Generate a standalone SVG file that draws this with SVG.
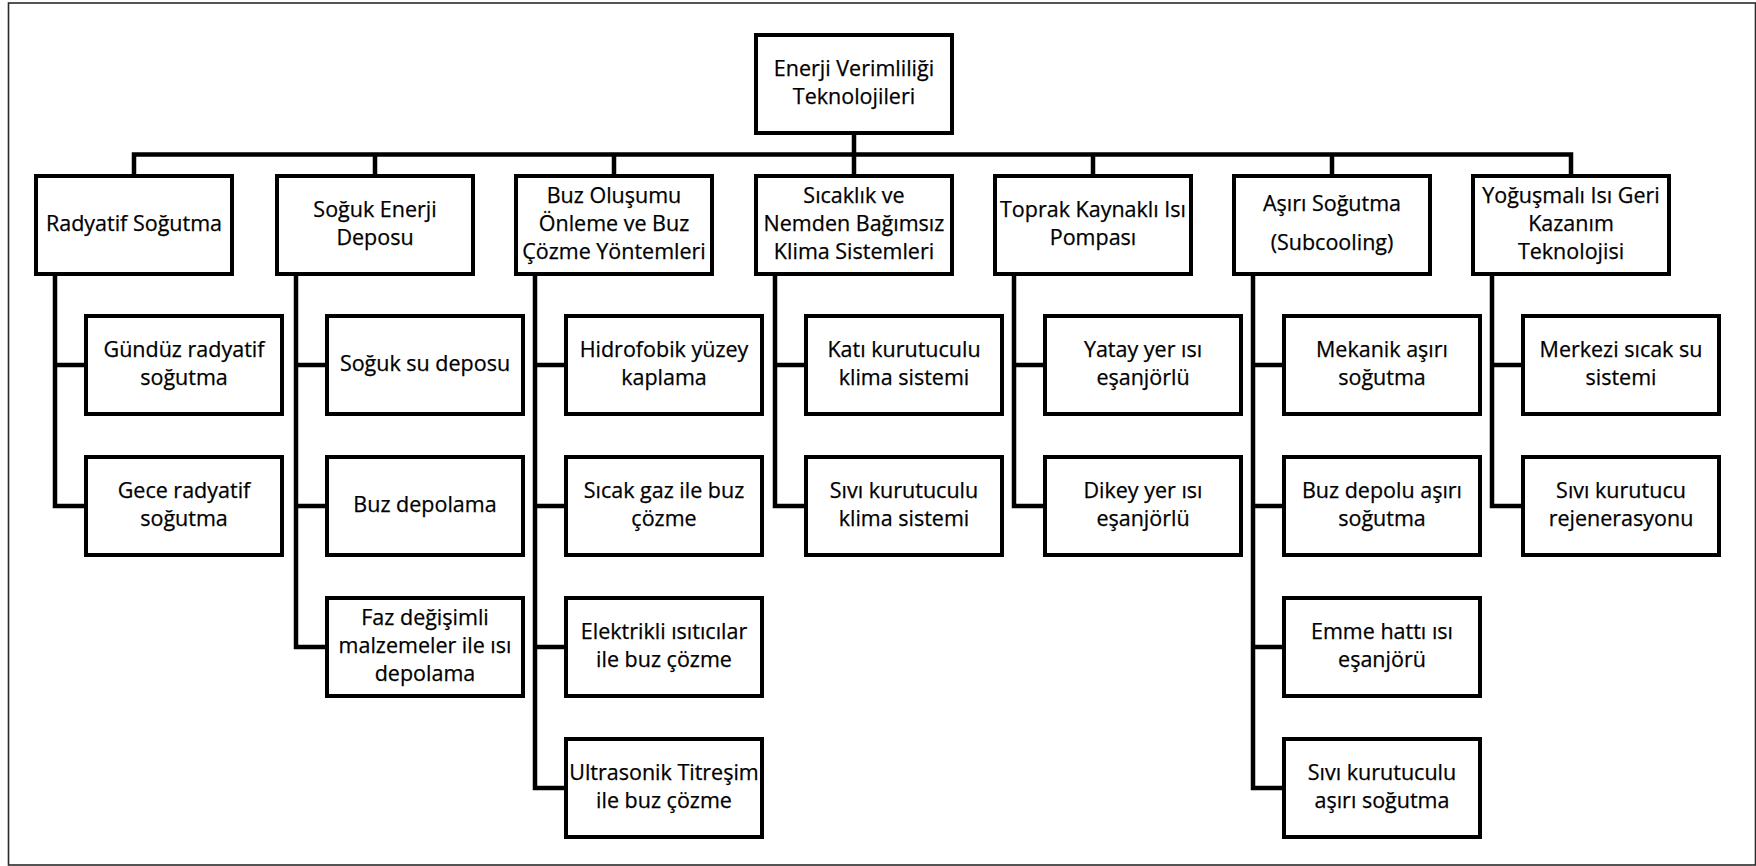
<svg xmlns="http://www.w3.org/2000/svg" width="1756" height="866" viewBox="0 0 1756 866">
<style>
.frame{fill:none;stroke:#2a2a2a;stroke-width:1.6}
.box{fill:#fff;stroke:#000;stroke-width:4}
.con{fill:none;stroke:#000;stroke-width:4.5;stroke-linejoin:miter;stroke-linecap:butt}
text{font-family:"Open Sans","Noto Sans","Liberation Sans",sans-serif;font-size:21.5px;fill:#000;stroke:#000;stroke-width:0.25;text-anchor:middle}
</style>
<rect width="1756" height="866" fill="#fff"/>
<rect class="frame" x="8.5" y="3" width="1747" height="862"/>
<g id="connectors">
<path class="con" d="M854 135 V154.5 M134 176 V154.5 H1571 V176 M375 154.5 V176 M614 154.5 V176 M854 154.5 V176 M1093 154.5 V176 M1332 154.5 V176"/>
<path class="con" d="M55 276 V506 H86 M55 365 H86"/>
<path class="con" d="M296 276 V647 H327 M296 365 H327 M296 506 H327"/>
<path class="con" d="M535 276 V788 H566 M535 365 H566 M535 506 H566 M535 647 H566"/>
<path class="con" d="M775 276 V506 H806 M775 365 H806"/>
<path class="con" d="M1014 276 V506 H1045 M1014 365 H1045"/>
<path class="con" d="M1253 276 V788 H1284 M1253 365 H1284 M1253 506 H1284 M1253 647 H1284"/>
<path class="con" d="M1492 276 V506 H1523 M1492 365 H1523"/>
</g>
<g id="root"><rect class="box" x="756" y="35" width="196" height="98"/><text x="854" y="76">Enerji Verimliliği</text><text x="854" y="104">Teknolojileri</text></g>
<g id="radyatif"><rect class="box" x="36" y="176" width="196" height="98"/><text x="134" y="231">Radyatif Soğutma</text></g>
<g id="soguk-enerji"><rect class="box" x="277" y="176" width="196" height="98"/><text x="375" y="217">Soğuk Enerji</text><text x="375" y="245">Deposu</text></g>
<g id="buz-olusumu"><rect class="box" x="516" y="176" width="196" height="98"/><text x="614" y="203">Buz Oluşumu</text><text x="614" y="231">Önleme ve Buz</text><text x="614" y="259">Çözme Yöntemleri</text></g>
<g id="sicaklik-nem"><rect class="box" x="756" y="176" width="196" height="98"/><text x="854" y="203">Sıcaklık ve</text><text x="854" y="231">Nemden Bağımsız</text><text x="854" y="259">Klima Sistemleri</text></g>
<g id="toprak"><rect class="box" x="995" y="176" width="196" height="98"/><text x="1093" y="217">Toprak Kaynaklı Isı</text><text x="1093" y="245">Pompası</text></g>
<g id="asiri-sogutma"><rect class="box" x="1234" y="176" width="196" height="98"/><text x="1332" y="211">Aşırı Soğutma</text><text x="1332" y="250">(Subcooling)</text></g>
<g id="yogusmali"><rect class="box" x="1473" y="176" width="196" height="98"/><text x="1571" y="203">Yoğuşmalı Isı Geri</text><text x="1571" y="231">Kazanım</text><text x="1571" y="259">Teknolojisi</text></g>
<g id="gunduz"><rect class="box" x="86" y="316" width="196" height="98"/><text x="184" y="357">Gündüz radyatif</text><text x="184" y="385">soğutma</text></g>
<g id="gece"><rect class="box" x="86" y="457" width="196" height="98"/><text x="184" y="498">Gece radyatif</text><text x="184" y="526">soğutma</text></g>
<g id="soguk-su"><rect class="box" x="327" y="316" width="196" height="98"/><text x="425" y="371">Soğuk su deposu</text></g>
<g id="buz-depolama"><rect class="box" x="327" y="457" width="196" height="98"/><text x="425" y="512">Buz depolama</text></g>
<g id="faz-degisimli"><rect class="box" x="327" y="598" width="196" height="98"/><text x="425" y="625">Faz değişimli</text><text x="425" y="653">malzemeler ile ısı</text><text x="425" y="681">depolama</text></g>
<g id="hidrofobik"><rect class="box" x="566" y="316" width="196" height="98"/><text x="664" y="357">Hidrofobik yüzey</text><text x="664" y="385">kaplama</text></g>
<g id="sicak-gaz"><rect class="box" x="566" y="457" width="196" height="98"/><text x="664" y="498">Sıcak gaz ile buz</text><text x="664" y="526">çözme</text></g>
<g id="elektrikli"><rect class="box" x="566" y="598" width="196" height="98"/><text x="664" y="639">Elektrikli ısıtıcılar</text><text x="664" y="667">ile buz çözme</text></g>
<g id="ultrasonik"><rect class="box" x="566" y="739" width="196" height="98"/><text x="664" y="780">Ultrasonik Titreşim</text><text x="664" y="808">ile buz çözme</text></g>
<g id="kati-kurutuculu"><rect class="box" x="806" y="316" width="196" height="98"/><text x="904" y="357">Katı kurutuculu</text><text x="904" y="385">klima sistemi</text></g>
<g id="sivi-kurutuculu-klima"><rect class="box" x="806" y="457" width="196" height="98"/><text x="904" y="498">Sıvı kurutuculu</text><text x="904" y="526">klima sistemi</text></g>
<g id="yatay"><rect class="box" x="1045" y="316" width="196" height="98"/><text x="1143" y="357">Yatay yer ısı</text><text x="1143" y="385">eşanjörlü</text></g>
<g id="dikey"><rect class="box" x="1045" y="457" width="196" height="98"/><text x="1143" y="498">Dikey yer ısı</text><text x="1143" y="526">eşanjörlü</text></g>
<g id="mekanik"><rect class="box" x="1284" y="316" width="196" height="98"/><text x="1382" y="357">Mekanik aşırı</text><text x="1382" y="385">soğutma</text></g>
<g id="buz-depolu"><rect class="box" x="1284" y="457" width="196" height="98"/><text x="1382" y="498">Buz depolu aşırı</text><text x="1382" y="526">soğutma</text></g>
<g id="emme-hatti"><rect class="box" x="1284" y="598" width="196" height="98"/><text x="1382" y="639">Emme hattı ısı</text><text x="1382" y="667">eşanjörü</text></g>
<g id="sivi-kurutuculu-asiri"><rect class="box" x="1284" y="739" width="196" height="98"/><text x="1382" y="780">Sıvı kurutuculu</text><text x="1382" y="808">aşırı soğutma</text></g>
<g id="merkezi"><rect class="box" x="1523" y="316" width="196" height="98"/><text x="1621" y="357">Merkezi sıcak su</text><text x="1621" y="385">sistemi</text></g>
<g id="sivi-kurutucu-rejen"><rect class="box" x="1523" y="457" width="196" height="98"/><text x="1621" y="498">Sıvı kurutucu</text><text x="1621" y="526">rejenerasyonu</text></g>
</svg>
